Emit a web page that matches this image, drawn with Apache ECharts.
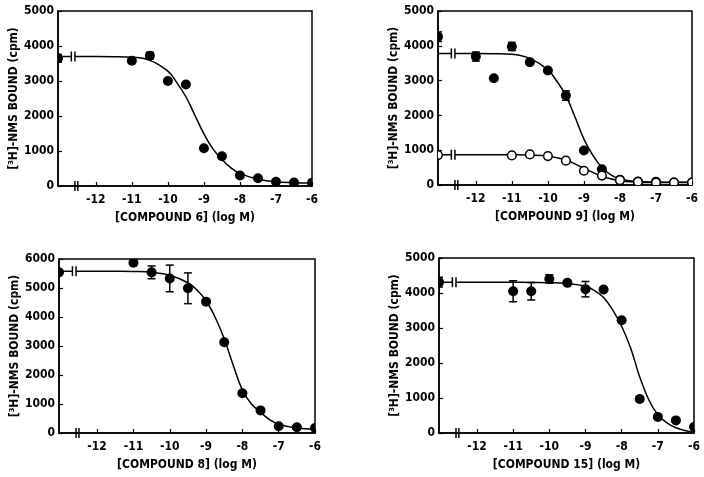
<!DOCTYPE html>
<html><head><meta charset="utf-8">
<script src="https://cdn.jsdelivr.net/npm/echarts@6/dist/echarts.min.js"></script>
<style>html,body{margin:0;padding:0;background:#fff}#c{width:704px;height:477px}</style>
</head><body><div id="c"></div>
<script>
// ---------- shared axis data ----------
const xTickValues = [-12, -11, -10, -9, -8, -7, -6];
const xMin = -13.05, xMax = -6;
const yMaxes = [5000, 5000, 6000, 5000];
const xTitles = ['[COMPOUND 6] (log M)', '[COMPOUND 9] (log M)', '[COMPOUND 8] (log M)', '[COMPOUND 15] (log M)'];
const yTitle = '[³H]-NMS BOUND (cpm)';
const ctrlSegX = [-13.05, -12.68];      // control plateau segment before the break
const curveBreakX = [-12.68, -12.58];   // caps on the curve at the break
const axisBreakX = [-12.58, -12.5];     // break marks on the x axis

// ---------- panel 1 : compound 6 ----------
const c6Conc  = [-13.05, -11, -10.5, -10, -9.5, -9, -8.5, -8, -7.5, -7, -6.5, -6];
const c6Bound = [3650, 3580, 3720, 3000, 2900, 1080, 850, 300, 220, 120, 100, 90];
const c6Err   = [110, 0, 100, 0, 0, 0, 0, 0, 0, 0, 0, 0];
const c6CurveX = [-12.58, -12, -11.5, -11, -10.5, -10, -9.75, -9.5, -9.25, -9, -8.75, -8.5, -8.25, -8, -7.5, -7, -6.5, -6];
const c6CurveY = [3700, 3700, 3695, 3680, 3590, 3280, 2950, 2550, 2020, 1490, 1060, 760, 520, 360, 190, 120, 95, 85];

// ---------- panel 2 : compound 9 ----------
const c9Conc  = [-13.05, -12, -11.5, -11, -10.5, -10, -9.5, -9, -8.5, -8, -7.5, -7, -6.5, -6];
const c9Bound = [4260, 3690, 3070, 3980, 3530, 3290, 2570, 990, 450, 150, 100, 90, 70, 70];
const c9Err   = [140, 130, 0, 115, 0, 0, 135, 0, 0, 0, 0, 0, 0, 0];
const c9CurveX = [-12.58, -12, -11.5, -11, -10.5, -10, -9.75, -9.5, -9.25, -9, -8.75, -8.5, -8.25, -8, -7.5, -7, -6.5, -6];
const c9CurveY = [3780, 3780, 3775, 3760, 3640, 3310, 2980, 2570, 1960, 1320, 850, 500, 290, 170, 100, 85, 80, 80];
const c9OpenConc  = [-13.05, -11, -10.5, -10, -9.5, -9, -8.5, -8, -7.5, -7, -6.5, -6];
const c9OpenBound = [860, 850, 880, 830, 700, 410, 270, 140, 90, 70, 70, 70];
const c9OpenCurveX = [-12.58, -12, -11.5, -11, -10.5, -10, -9.5, -9, -8.5, -8, -7.5, -7, -6.5, -6];
const c9OpenCurveY = [870, 870, 870, 868, 860, 830, 720, 480, 250, 120, 80, 70, 70, 70];

// ---------- panel 3 : compound 8 ----------
const c8Conc  = [-13.05, -11, -10.5, -10, -9.5, -9, -8.5, -8, -7.5, -7, -6.5, -6];
const c8Bound = [5540, 5870, 5540, 5330, 4990, 4530, 3130, 1370, 780, 230, 200, 170];
const c8Err   = [0, 0, 220, 460, 530, 0, 0, 0, 0, 0, 0, 0];
const c8CurveX = [-12.58, -12, -11.5, -11, -10.5, -10, -9.5, -9.25, -9, -8.75, -8.5, -8.25, -8, -7.75, -7.5, -7.25, -7, -6.5, -6];
const c8CurveY = [5580, 5580, 5578, 5570, 5540, 5440, 5180, 4930, 4560, 3990, 3250, 2330, 1480, 1000, 720, 460, 300, 170, 130];

// ---------- panel 4 : compound 15 ----------
const c15Conc  = [-13.05, -11, -10.5, -10, -9.5, -9, -8.5, -8, -7.5, -7, -6.5, -6];
const c15Bound = [4310, 4050, 4050, 4400, 4290, 4110, 4100, 3220, 970, 460, 360, 170];
const c15Err   = [140, 300, 250, 120, 0, 220, 0, 0, 70, 0, 0, 0];
const c15CurveX = [-12.58, -12, -11.5, -11, -10.5, -10, -9.5, -9, -8.75, -8.5, -8.25, -8, -7.75, -7.5, -7.25, -7, -6.75, -6.5, -6.25, -6];
const c15CurveY = [4310, 4310, 4310, 4308, 4303, 4295, 4270, 4190, 4070, 3870, 3520, 3050, 2420, 1600, 950, 520, 290, 150, 70, 20];

// ---------- build ----------
const FONT = "'DejaVu Sans Condensed', 'Liberation Sans Narrow', sans-serif";
const grids = [
  {left: 58, top: 11, width: 254, height: 175},
  {left: 438, top: 11, width: 254, height: 174},
  {left: 59, top: 259, width: 256, height: 174},
  {left: 439, top: 258, width: 255, height: 175}
];
const zip = (a, b) => a.map((v, i) => [v, b[i]]);

const panels = [
  {filled: [c6Conc, c6Bound, c6Err], curves: [[c6CurveX, c6CurveY]]},
  {filled: [c9Conc, c9Bound, c9Err], open: [c9OpenConc, c9OpenBound], curves: [[c9CurveX, c9CurveY], [c9OpenCurveX, c9OpenCurveY]]},
  {filled: [c8Conc, c8Bound, c8Err], curves: [[c8CurveX, c8CurveY]]},
  {filled: [c15Conc, c15Bound, c15Err], curves: [[c15CurveX, c15CurveY]]}
];

function errItem(params, api) {
  const x = api.value(0), lo = api.value(1), hi = api.value(2);
  const p1 = api.coord([x, hi]), p2 = api.coord([x, lo]);
  const w = 4, st = {stroke: '#000', lineWidth: 1.5};
  return {type: 'group', children: [
    {type: 'line', shape: {x1: p1[0], y1: p1[1], x2: p2[0], y2: p2[1]}, style: st},
    {type: 'line', shape: {x1: p1[0] - w, y1: p1[1], x2: p1[0] + w, y2: p1[1]}, style: st},
    {type: 'line', shape: {x1: p2[0] - w, y1: p2[1], x2: p2[0] + w, y2: p2[1]}, style: st}
  ]};
}
function capItem(params, api) {
  const p = api.coord([api.value(0), api.value(1)]);
  const h = 5;
  return {type: 'line', shape: {x1: p[0], y1: p[1] - h, x2: p[0], y2: p[1] + h}, style: {stroke: '#000', lineWidth: 1.5}};
}
function dotItem(params, api) {
  const p = api.coord([api.value(0), api.value(1)]);
  return {type: 'circle', shape: {cx: p[0], cy: p[1], r: 5}, style: {fill: '#000'}};
}
function ringItem(params, api) {
  const p = api.coord([api.value(0), api.value(1)]);
  return {type: 'circle', shape: {cx: p[0], cy: p[1], r: 4.3}, style: {fill: '#fff', stroke: '#000', lineWidth: 1.5}};
}

const labelStyle = {color: '#000', fontSize: 12, fontWeight: 'bold', fontFamily: FONT};
const xAxes = [], yAxes = [], series = [];
panels.forEach((p, i) => {
  xAxes.push({
    type: 'value', gridIndex: i, min: xMin, max: xMax,
    axisLine: {show: true, onZero: false, lineStyle: {color: '#000', width: 1.5}},
    axisTick: {show: true, inside: true, length: 4, customValues: xTickValues, lineStyle: {color: '#000', width: 1.2}},
    axisLabel: Object.assign({customValues: xTickValues, margin: 8, formatter: v => String(v)}, labelStyle),
    splitLine: {show: false},
    name: xTitles[i], nameLocation: 'middle', nameGap: 26,
    nameTextStyle: {color: '#000', fontSize: 12, fontWeight: 'bold', fontFamily: FONT}
  });
  yAxes.push({
    type: 'value', gridIndex: i, min: 0, max: yMaxes[i], interval: 1000,
    axisLine: {show: true, lineStyle: {color: '#000', width: 1.5}},
    axisTick: {show: true, inside: true, length: 4, lineStyle: {color: '#000', width: 1.2}},
    axisLabel: Object.assign({margin: 4, formatter: v => String(v)}, labelStyle),
    splitLine: {show: false},
    name: yTitle, nameLocation: 'middle', nameGap: 38,
    nameTextStyle: {color: '#000', fontSize: 12, fontWeight: 'bold', fontFamily: FONT}
  });
  // curves
  p.curves.forEach(c => {
    const plateau = c[1][0];
    series.push({type: 'line', xAxisIndex: i, yAxisIndex: i, data: zip(c[0], c[1]), smooth: 0.4,
      showSymbol: false, symbol: 'none', lineStyle: {color: '#000', width: 1.5}, z: 2, silent: true});
    series.push({type: 'line', xAxisIndex: i, yAxisIndex: i, data: ctrlSegX.map(x => [x, plateau]),
      showSymbol: false, symbol: 'none', lineStyle: {color: '#000', width: 1.5}, z: 2, silent: true});
    series.push({type: 'custom', xAxisIndex: i, yAxisIndex: i, renderItem: capItem,
      data: curveBreakX.map(x => [x, plateau]), z: 2, silent: true});
  });
  // axis break marks
  series.push({type: 'custom', xAxisIndex: i, yAxisIndex: i, renderItem: capItem,
    data: axisBreakX.map(x => [x, 0]), z: 3, silent: true});
  // error bars
  const [cx, cy, ce] = p.filled;
  series.push({type: 'custom', xAxisIndex: i, yAxisIndex: i, renderItem: errItem, clip: true,
    data: cx.map((x, k) => ce[k] ? [x, cy[k] - ce[k], cy[k] + ce[k]] : null).filter(d => d), z: 3, silent: true});
  // filled points
  series.push({type: 'custom', xAxisIndex: i, yAxisIndex: i, renderItem: dotItem, clip: true,
    data: zip(cx, cy), z: 4, silent: true});
  if (p.open) {
    series.push({type: 'custom', xAxisIndex: i, yAxisIndex: i, renderItem: ringItem, clip: true,
      data: zip(p.open[0], p.open[1]), z: 5, silent: true});
  }
});

const chart = echarts.init(document.getElementById('c'), null, {renderer: 'canvas'});
chart.setOption({
  animation: false,
  backgroundColor: '#fff',
  grid: grids.map(g => Object.assign({show: true, borderColor: '#000', borderWidth: 1.5, backgroundColor: 'transparent'}, g)),
  xAxis: xAxes, yAxis: yAxes, series: series
});
</script></body></html>
